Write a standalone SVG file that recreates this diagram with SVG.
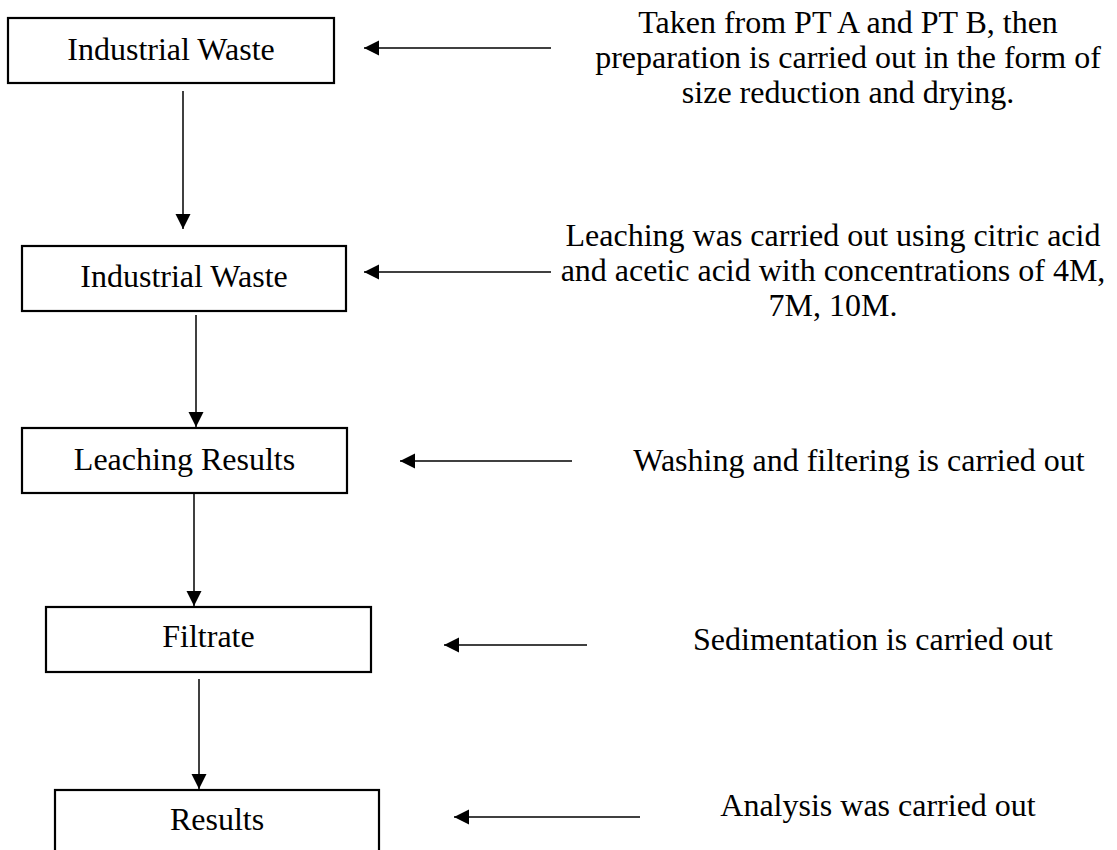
<svg xmlns="http://www.w3.org/2000/svg" width="1117" height="850" viewBox="0 0 1117 850">
<style>
.box{fill:#fff;stroke:#000;stroke-width:2.2}
.lbl{font-family:"Liberation Serif","Times New Roman",serif;font-size:32px;fill:#000;text-anchor:middle}
.con{stroke:#000;stroke-width:1.5;fill:none;marker-end:url(#ah)}
</style>
<defs>
<marker id="ah" markerUnits="userSpaceOnUse" markerWidth="16" markerHeight="16" viewBox="0 0 16 16" refX="15" refY="8" orient="auto">
<path d="M0,0.5 L15,8 L0,15.5 Z" fill="#000"/>
</marker>
</defs>
<rect width="1117" height="850" fill="#fff"/>
<g id="connectors">
<line class="con" x1="551" y1="48" x2="364" y2="48"/>
<line class="con" x1="183" y1="91" x2="183" y2="229"/>
<line class="con" x1="551" y1="272" x2="364" y2="272"/>
<line class="con" x1="196" y1="315" x2="196" y2="427"/>
<line class="con" x1="572" y1="461" x2="400" y2="461"/>
<line class="con" x1="194" y1="494" x2="194" y2="606"/>
<line class="con" x1="587" y1="645" x2="444" y2="645"/>
<line class="con" x1="199" y1="679" x2="199" y2="789"/>
<line class="con" x1="640" y1="817" x2="454" y2="817"/>
</g>
<g id="node1">
<rect class="box" x="8" y="18" width="326" height="65"/>
<text class="lbl" x="171" y="60">Industrial Waste</text>
</g>
<g id="node2">
<rect class="box" x="22" y="246" width="324" height="65"/>
<text class="lbl" x="184" y="287">Industrial Waste</text>
</g>
<g id="node3">
<rect class="box" x="22" y="428" width="325" height="65"/>
<text class="lbl" x="184.5" y="470">Leaching Results</text>
</g>
<g id="node4">
<rect class="box" x="46" y="607" width="325" height="65"/>
<text class="lbl" x="208.5" y="647">Filtrate</text>
</g>
<g id="node5">
<rect class="box" x="55" y="790" width="324" height="80"/>
<text class="lbl" x="217" y="830">Results</text>
</g>
<g id="note1">
<text class="lbl" x="848" y="33">Taken from PT A and PT B, then</text>
<text class="lbl" x="848" y="68">preparation is carried out in the form of</text>
<text class="lbl" x="848" y="103">size reduction and drying.</text>
</g>
<g id="note2">
<text class="lbl" x="833" y="246">Leaching was carried out using citric acid</text>
<text class="lbl" x="833" y="281">and acetic acid with concentrations of 4M,</text>
<text class="lbl" x="833" y="316">7M, 10M.</text>
</g>
<g id="note3">
<text class="lbl" x="859" y="471">Washing and filtering is carried out</text>
</g>
<g id="note4">
<text class="lbl" x="873" y="650">Sedimentation is carried out</text>
</g>
<g id="note5">
<text class="lbl" x="878" y="816">Analysis was carried out</text>
</g>
</svg>
